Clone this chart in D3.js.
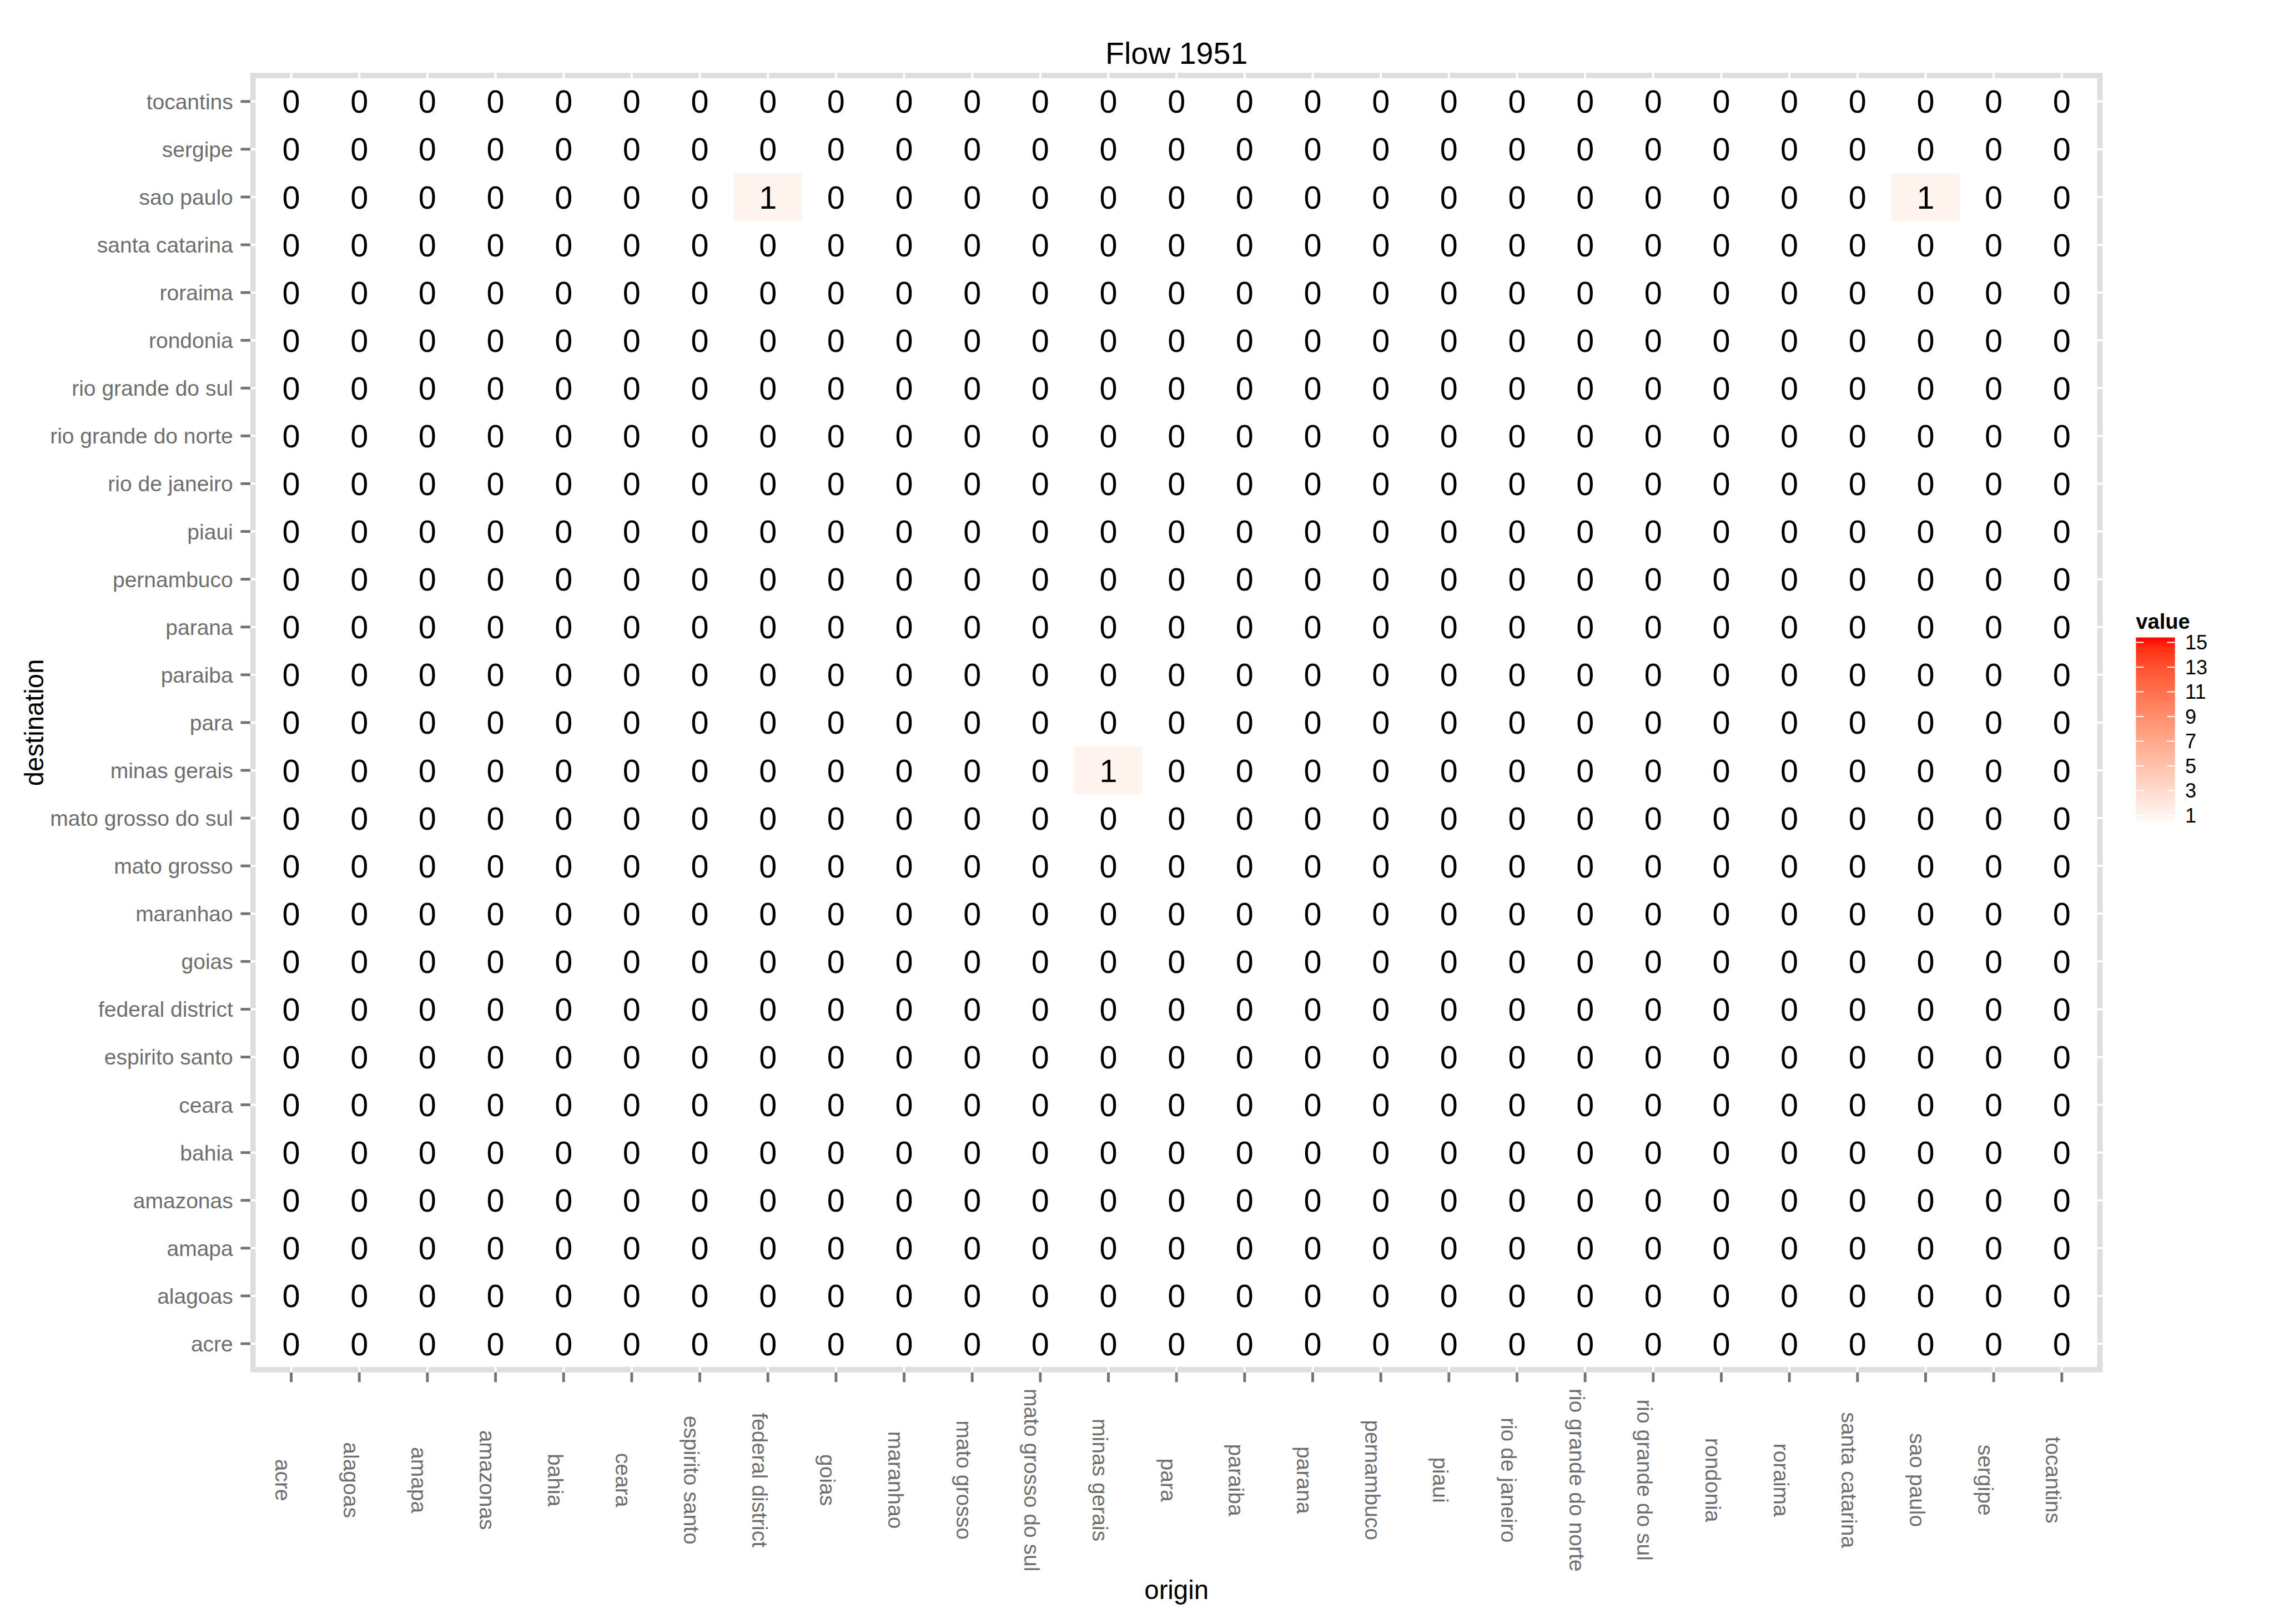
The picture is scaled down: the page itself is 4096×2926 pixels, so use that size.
<!DOCTYPE html>
<html>
<head>
<meta charset="utf-8">
<script src="https://cdn.jsdelivr.net/npm/d3@7"></script>
<style>
  html, body { margin: 0; padding: 0; background: #ffffff; }
  svg { display: block; }
  text { font-family: "Liberation Sans", Arial, Helvetica, sans-serif; }
</style>
</head>
<body>
<svg id="chart"></svg>
<script>
// ---------------- data ----------------
const chartTitle = "Flow 1951";
const xTitle = "origin";
const yTitle = "destination";
const legendTitle = "value";

// origin states (x axis, left to right)
const origins = ["acre","alagoas","amapa","amazonas","bahia","ceara","espirito santo",
  "federal district","goias","maranhao","mato grosso","mato grosso do sul","minas gerais",
  "para","paraiba","parana","pernambuco","piaui","rio de janeiro","rio grande do norte",
  "rio grande do sul","rondonia","roraima","santa catarina","sao paulo","sergipe","tocantins"];

// destination states (y axis, bottom to top)
const destinations = ["acre","alagoas","amapa","amazonas","bahia","ceara","espirito santo",
  "federal district","goias","maranhao","mato grosso","mato grosso do sul","minas gerais",
  "para","paraiba","parana","pernambuco","piaui","rio de janeiro","rio grande do norte",
  "rio grande do sul","rondonia","roraima","santa catarina","sao paulo","sergipe","tocantins"];

// flow values: one row per destination (same order as destinations), one column per origin
const flowValues = [
  [0,0,0,0,0,0,0,0,0,0,0,0,0,0,0,0,0,0,0,0,0,0,0,0,0,0,0], // acre
  [0,0,0,0,0,0,0,0,0,0,0,0,0,0,0,0,0,0,0,0,0,0,0,0,0,0,0], // alagoas
  [0,0,0,0,0,0,0,0,0,0,0,0,0,0,0,0,0,0,0,0,0,0,0,0,0,0,0], // amapa
  [0,0,0,0,0,0,0,0,0,0,0,0,0,0,0,0,0,0,0,0,0,0,0,0,0,0,0], // amazonas
  [0,0,0,0,0,0,0,0,0,0,0,0,0,0,0,0,0,0,0,0,0,0,0,0,0,0,0], // bahia
  [0,0,0,0,0,0,0,0,0,0,0,0,0,0,0,0,0,0,0,0,0,0,0,0,0,0,0], // ceara
  [0,0,0,0,0,0,0,0,0,0,0,0,0,0,0,0,0,0,0,0,0,0,0,0,0,0,0], // espirito santo
  [0,0,0,0,0,0,0,0,0,0,0,0,0,0,0,0,0,0,0,0,0,0,0,0,0,0,0], // federal district
  [0,0,0,0,0,0,0,0,0,0,0,0,0,0,0,0,0,0,0,0,0,0,0,0,0,0,0], // goias
  [0,0,0,0,0,0,0,0,0,0,0,0,0,0,0,0,0,0,0,0,0,0,0,0,0,0,0], // maranhao
  [0,0,0,0,0,0,0,0,0,0,0,0,0,0,0,0,0,0,0,0,0,0,0,0,0,0,0], // mato grosso
  [0,0,0,0,0,0,0,0,0,0,0,0,0,0,0,0,0,0,0,0,0,0,0,0,0,0,0], // mato grosso do sul
  [0,0,0,0,0,0,0,0,0,0,0,0,1,0,0,0,0,0,0,0,0,0,0,0,0,0,0], // minas gerais
  [0,0,0,0,0,0,0,0,0,0,0,0,0,0,0,0,0,0,0,0,0,0,0,0,0,0,0], // para
  [0,0,0,0,0,0,0,0,0,0,0,0,0,0,0,0,0,0,0,0,0,0,0,0,0,0,0], // paraiba
  [0,0,0,0,0,0,0,0,0,0,0,0,0,0,0,0,0,0,0,0,0,0,0,0,0,0,0], // parana
  [0,0,0,0,0,0,0,0,0,0,0,0,0,0,0,0,0,0,0,0,0,0,0,0,0,0,0], // pernambuco
  [0,0,0,0,0,0,0,0,0,0,0,0,0,0,0,0,0,0,0,0,0,0,0,0,0,0,0], // piaui
  [0,0,0,0,0,0,0,0,0,0,0,0,0,0,0,0,0,0,0,0,0,0,0,0,0,0,0], // rio de janeiro
  [0,0,0,0,0,0,0,0,0,0,0,0,0,0,0,0,0,0,0,0,0,0,0,0,0,0,0], // rio grande do norte
  [0,0,0,0,0,0,0,0,0,0,0,0,0,0,0,0,0,0,0,0,0,0,0,0,0,0,0], // rio grande do sul
  [0,0,0,0,0,0,0,0,0,0,0,0,0,0,0,0,0,0,0,0,0,0,0,0,0,0,0], // rondonia
  [0,0,0,0,0,0,0,0,0,0,0,0,0,0,0,0,0,0,0,0,0,0,0,0,0,0,0], // roraima
  [0,0,0,0,0,0,0,0,0,0,0,0,0,0,0,0,0,0,0,0,0,0,0,0,0,0,0], // santa catarina
  [0,0,0,0,0,0,0,1,0,0,0,0,0,0,0,0,0,0,0,0,0,0,0,0,1,0,0], // sao paulo
  [0,0,0,0,0,0,0,0,0,0,0,0,0,0,0,0,0,0,0,0,0,0,0,0,0,0,0], // sergipe
  [0,0,0,0,0,0,0,0,0,0,0,0,0,0,0,0,0,0,0,0,0,0,0,0,0,0,0]  // tocantins
];

// colour legend
const legendTicks = [1,3,5,7,9,11,13,15];
const legendExtent = [0.5, 15.4];
const colourDomain = [0, 15.4];

// ---------------- layout (reference pixel space 4200 x 3000) ----------------
const W = 4200, H = 3000, S = 0.975;
const panel = { left: 462.5, right: 3884.5, top: 134.5, bottom: 2536 };
const borderW = 10;
const tickLen = 18;
const axisGrey = "#6e6e6e";
const tickGrey = "#737373";
const borderGrey = "#dedede";

const svg = d3.select("#chart")
  .attr("width", W * S).attr("height", H * S)
  .attr("viewBox", `0 0 ${W} ${H}`);

svg.append("rect").attr("width", W).attr("height", H).attr("fill", "#ffffff");

const x = d3.scaleBand().domain(origins)
  .range([panel.left, panel.right]).paddingInner(0).paddingOuter(0.1);
const y = d3.scaleBand().domain(destinations.slice().reverse())
  .range([panel.top, panel.bottom]).paddingInner(0).paddingOuter(0.1);
const colour = d3.scaleLinear().domain(colourDomain)
  .range(["#ffffff", "#ff0000"]).interpolate(d3.interpolateLab).clamp(true);

// cells
const cells = [];
destinations.forEach((dest, i) => {
  origins.forEach((orig, j) => {
    cells.push({ origin: orig, destination: dest, value: flowValues[i][j] });
  });
});

const gCells = svg.append("g");
gCells.selectAll("rect.tile").data(cells).join("rect")
  .attr("class", "tile")
  .attr("x", d => x(d.origin))
  .attr("y", d => y(d.destination))
  .attr("width", x.bandwidth())
  .attr("height", y.bandwidth())
  .attr("fill", d => colour(d.value));

gCells.selectAll("text.val").data(cells).join("text")
  .attr("class", "val")
  .attr("x", d => x(d.origin) + x.bandwidth() / 2)
  .attr("y", d => y(d.destination) + y.bandwidth() / 2)
  .attr("dy", "0.358em")
  .attr("text-anchor", "middle")
  .attr("font-size", 59)
  .attr("fill", "#000000")
  .text(d => d3.format("d")(d.value));

// panel border
svg.append("rect")
  .attr("x", panel.left + borderW / 2)
  .attr("y", panel.top + borderW / 2)
  .attr("width", panel.right - panel.left - borderW)
  .attr("height", panel.bottom - panel.top - borderW)
  .attr("fill", "none")
  .attr("stroke", borderGrey)
  .attr("stroke-width", borderW);

// white notches in the border at each tick
const notchW = 4;
svg.append("g").selectAll("rect").data(origins).join("rect")
  .attr("x", d => x(d) + x.bandwidth() / 2 - notchW / 2)
  .attr("y", panel.top).attr("width", notchW).attr("height", borderW).attr("fill", "#fff");
svg.append("g").selectAll("rect").data(origins).join("rect")
  .attr("x", d => x(d) + x.bandwidth() / 2 - notchW / 2)
  .attr("y", panel.bottom - borderW).attr("width", notchW).attr("height", borderW).attr("fill", "#fff");
svg.append("g").selectAll("rect").data(destinations).join("rect")
  .attr("y", d => y(d) + y.bandwidth() / 2 - notchW / 2)
  .attr("x", panel.left).attr("height", notchW).attr("width", borderW).attr("fill", "#fff");
svg.append("g").selectAll("rect").data(destinations).join("rect")
  .attr("y", d => y(d) + y.bandwidth() / 2 - notchW / 2)
  .attr("x", panel.right - borderW).attr("height", notchW).attr("width", borderW).attr("fill", "#fff");

// y axis
const yAxis = svg.append("g")
  .attr("transform", `translate(${panel.left},0)`)
  .call(d3.axisLeft(y).tickSize(tickLen).tickPadding(14));
yAxis.select(".domain").remove();
yAxis.selectAll(".tick line").attr("stroke", tickGrey).attr("stroke-width", 5);
yAxis.selectAll(".tick text")
  .attr("font-size", 40)
  .attr("font-family", "'Liberation Sans', Arial, sans-serif")
  .attr("fill", axisGrey)
  .attr("dy", "0.36em");

// x axis
const xAxis = svg.append("g")
  .attr("transform", `translate(0,${panel.bottom})`)
  .call(d3.axisBottom(x).tickSize(tickLen).tickPadding(0));
xAxis.select(".domain").remove();
xAxis.selectAll(".tick line").attr("stroke", tickGrey).attr("stroke-width", 5);
const xLabelCenter = 2735 - panel.bottom;
xAxis.selectAll(".tick text")
  .attr("font-size", 40)
  .attr("font-family", "'Liberation Sans', Arial, sans-serif")
  .attr("fill", axisGrey)
  .attr("x", 0).attr("y", 0)
  .attr("dy", "0.73em")
  .attr("text-anchor", "middle")
  .attr("transform", `translate(0,${xLabelCenter}) rotate(90)`);

// titles
svg.append("text")
  .attr("x", (panel.left + panel.right) / 2).attr("y", 118)
  .attr("text-anchor", "middle").attr("font-size", 57).attr("fill", "#000")
  .text(chartTitle);

svg.append("text")
  .attr("x", (panel.left + panel.right) / 2).attr("y", 2955)
  .attr("text-anchor", "middle").attr("font-size", 48.5).attr("fill", "#000")
  .text(xTitle);

svg.append("text")
  .attr("transform", `translate(80,${(panel.top + panel.bottom) / 2}) rotate(-90)`)
  .attr("text-anchor", "middle").attr("font-size", 48.5).attr("fill", "#000")
  .text(yTitle);

// legend
const leg = { x: 3946, top: 1178, bottom: 1518, w: 72 };
const ly = d3.scaleLinear().domain(legendExtent).range([leg.bottom, leg.top]);

const grad = svg.append("defs").append("linearGradient")
  .attr("id", "legendGrad").attr("x1", 0).attr("y1", 1).attr("x2", 0).attr("y2", 0);
d3.range(0, 1.0001, 0.05).forEach(t => {
  const v = legendExtent[0] + t * (legendExtent[1] - legendExtent[0]);
  grad.append("stop").attr("offset", t).attr("stop-color", colour(v));
});

svg.append("rect")
  .attr("x", leg.x).attr("y", leg.top)
  .attr("width", leg.w).attr("height", leg.bottom - leg.top)
  .attr("fill", "url(#legendGrad)");

const lt = svg.append("g");
lt.selectAll("line.l").data(legendTicks).join("line")
  .attr("x1", leg.x).attr("x2", leg.x + leg.w / 5)
  .attr("y1", d => ly(d)).attr("y2", d => ly(d))
  .attr("stroke", "#fff").attr("stroke-width", 2);
lt.selectAll("line.r").data(legendTicks).join("line")
  .attr("x1", leg.x + leg.w * 4 / 5).attr("x2", leg.x + leg.w)
  .attr("y1", d => ly(d)).attr("y2", d => ly(d))
  .attr("stroke", "#fff").attr("stroke-width", 2);
lt.selectAll("text").data(legendTicks).join("text")
  .attr("x", 4037).attr("y", d => ly(d)).attr("dy", "0.358em")
  .attr("font-size", 37).attr("fill", "#000")
  .text(d => d);

svg.append("text")
  .attr("x", leg.x).attr("y", 1162)
  .attr("font-size", 39).attr("font-weight", "bold").attr("fill", "#000")
  .text(legendTitle);
</script>
</body>
</html>
